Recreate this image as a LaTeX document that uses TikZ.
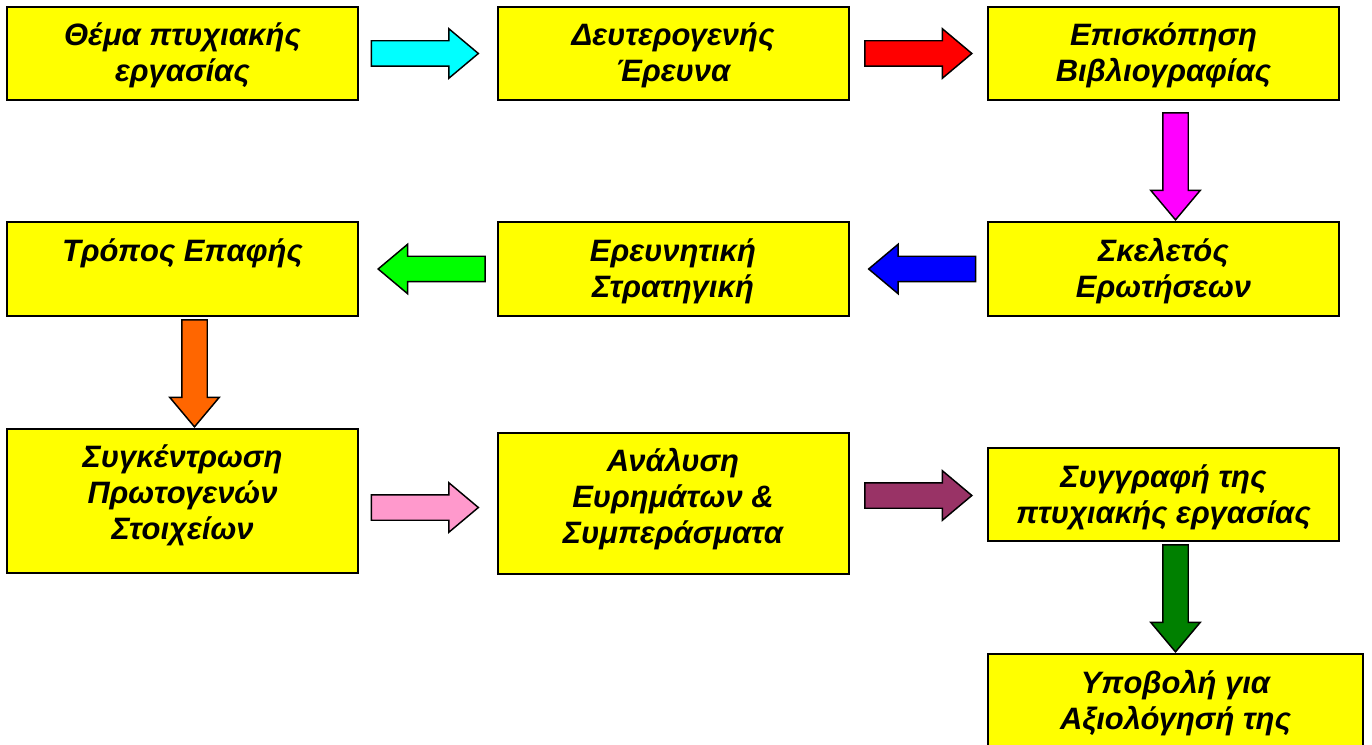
\documentclass[tikz,border=0pt]{standalone}
\usepackage{fontspec}
\setmainfont{Liberation Sans}
\usetikzlibrary{shapes.arrows,calc}

\begin{document}
\begin{tikzpicture}[x=0.75pt,y=0.75pt,yscale=-1,xscale=1,
  box/.style={draw={rgb, 255:red, 0; green, 0; blue, 0 }, line width=1.5pt, fill={rgb, 255:red, 255; green, 255; blue, 0 }, minimum width=263.25pt, minimum height=69.75pt, inner sep=0pt},
  boxtext/.style={anchor=north, inner sep=0pt, align=center, font=\fontsize{23.2}{27}\selectfont\bfseries\itshape},
  barrow/.style={single arrow, draw=black, line width=1.1pt, inner sep=9pt, single arrow head extend=9pt, single arrow head indent=0pt, single arrow tip angle=80, minimum height=80.25pt, anchor=tip}
]
%set diagram size 1372 x 745
\useasboundingbox (0,0) rectangle (1372,745);
\clip (0,0) rectangle (1372,745);

%Shape: Rectangle [row 1]
\node [box] (thema) at (182.5,53.5) {};
\node [box] (deut) at (673,53.5) {};
\node [box] (episk) at (1163.5,53.5) {};
%Shape: Rectangle [row 2]
\node [box, minimum height=70.5pt] (skel) at (1163.5,269) {};
\node [box, minimum height=70.5pt] (strat) at (673,269) {};
\node [box, minimum height=70.5pt] (epafi) at (182.5,269) {};
%Shape: Rectangle [row 3]
\node [box, minimum height=108pt] (syg) at (182.5,501) {};
\node [box, minimum height=105.75pt] (anal) at (673,503.5) {};
\node [box] (sygr) at (1163.5,494.5) {};
%Shape: Rectangle [last, runs off the page]
\node [box, minimum width=281.25pt, minimum height=76.5pt] (ypob) at (1175.5,705) {};

% Text Node
\node [boxtext] (thema-t) at ($(thema.north)+(0,16)$) {Θέμα πτυχιακής\\εργασίας};
% Text Node
\node [boxtext] (deut-t) at ($(deut.north)+(0,16)$) {Δευτερογενής\\Έρευνα};
% Text Node
\node [boxtext] (episk-t) at ($(episk.north)+(0,16)$) {Επισκόπηση\\Βιβλιογραφίας};
% Text Node
\node [boxtext] (skel-t) at ($(skel.north)+(0,17)$) {Σκελετός\\Ερωτήσεων};
% Text Node
\node [boxtext] (strat-t) at ($(strat.north)+(0,17)$) {Ερευνητική\\Στρατηγική};
% Text Node
\node [boxtext] (epafi-t) at ($(epafi.north)+(0,17)$) {Τρόπος Επαφής};
% Text Node
\node [boxtext] (syg-t) at ($(syg.north)+(0,16)$) {Συγκέντρωση\\Πρωτογενών\\Στοιχείων};
% Text Node
\node [boxtext] (anal-t) at ($(anal.north)+(0,16)$) {Ανάλυση\\Ευρημάτων \&\\Συμπεράσματα};
% Text Node
\node [boxtext] (sygr-t) at ($(sygr.north)+(0,17)$) {Συγγραφή της\\πτυχιακής εργασίας};
% Text Node
\node [boxtext] (ypob-t) at ($(ypob.north)+(0,17)$) {Υποβολή για\\Αξιολόγησή της};

%Shape: Right Arrow
\node [barrow, fill={rgb, 255:red, 0; green, 255; blue, 255 }] (arr1) at ($(deut.west)+(-17,0)$) {};
%Shape: Right Arrow
\node [barrow, fill={rgb, 255:red, 255; green, 0; blue, 0 }] (arr2) at ($(episk.west)+(-14,0)$) {};
%Shape: Down Arrow
\node [barrow, shape border rotate=270, fill={rgb, 255:red, 255; green, 0; blue, 255 }] (arr3) at ($(skel.north)+(12,0)$) {};
%Shape: Left Arrow
\node [barrow, shape border rotate=180, fill={rgb, 255:red, 0; green, 0; blue, 255 }] (arr4) at ($(strat.east)+(18,0)$) {};
%Shape: Left Arrow
\node [barrow, shape border rotate=180, fill={rgb, 255:red, 0; green, 255; blue, 0 }] (arr5) at ($(epafi.east)+(18,0)$) {};
%Shape: Down Arrow
\node [barrow, shape border rotate=270, fill={rgb, 255:red, 255; green, 102; blue, 0 }] (arr6) at ($(syg.north)+(12,0)$) {};
%Shape: Right Arrow
\node [barrow, fill={rgb, 255:red, 255; green, 153; blue, 204 }] (arr7) at ($(anal.west)+(-17,4)$) {};
%Shape: Right Arrow
\node [barrow, fill={rgb, 255:red, 153; green, 51; blue, 102 }] (arr8) at ($(sygr.west)+(-14,1)$) {};
%Shape: Down Arrow
\node [barrow, shape border rotate=270, fill={rgb, 255:red, 0; green, 128; blue, 0 }] (arr9) at (ypob.north) {};

\end{tikzpicture}
\end{document}
